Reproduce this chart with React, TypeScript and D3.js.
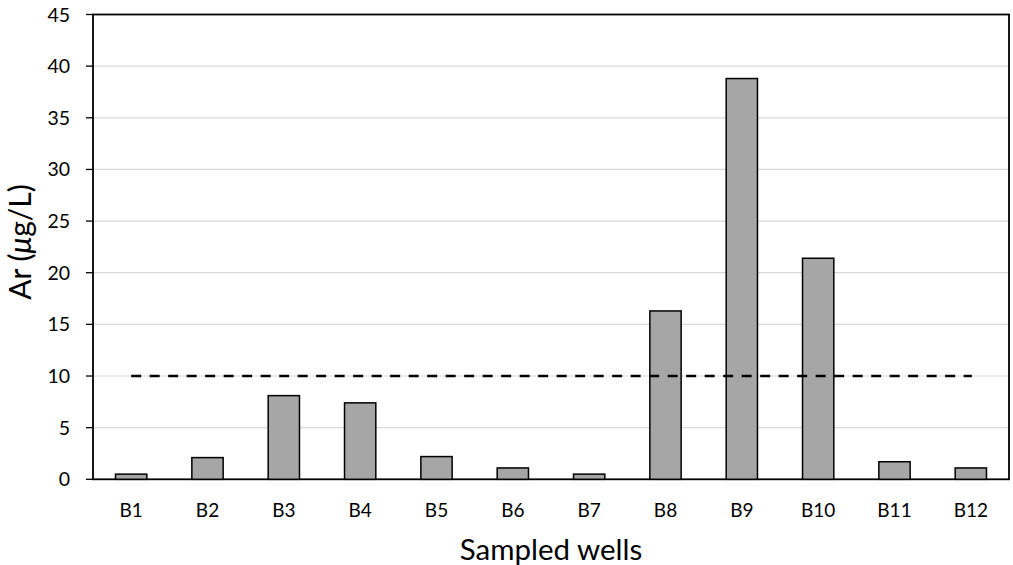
import React from "react";
import * as d3 from "d3";

const categories = ["B1", "B2", "B3", "B4", "B5", "B6", "B7", "B8", "B9", "B10", "B11", "B12"];
const values = [0.5, 2.1, 8.1, 7.4, 2.2, 1.1, 0.5, 16.3, 38.8, 21.4, 1.7, 1.1];
const yTicks = [0, 5, 10, 15, 20, 25, 30, 35, 40, 45];
const limit = 10;

const W = 1013, H = 565;
const M = { left: 93, right: 1009, top: 14.5, bottom: 479.3 };
const FONT = "Lato, 'Open Sans', sans-serif";

export default function App() {
  const x = d3.scaleBand<string>().domain(categories).range([M.left, M.right]).paddingInner(0.59).paddingOuter(0.295);
  const y = d3.scaleLinear().domain([0, 45]).range([M.bottom, M.top]);
  const first = x(categories[0])! + x.bandwidth() / 2;
  const last = x(categories[categories.length - 1])! + x.bandwidth() / 2;
  return (
    <svg width={W} height={H} style={{ position: "absolute", left: 0, top: 0, background: "#fff" }}>
      {yTicks.filter(t => t > 0 && t < 45).map(t => (
        <line key={"g" + t} x1={M.left} x2={M.right} y1={y(t)} y2={y(t)} stroke="#d9d9d9" strokeWidth={1.2} />
      ))}
      <rect x={M.left} y={M.top} width={M.right - M.left} height={M.bottom - M.top} fill="none" stroke="#000" strokeWidth={1.8} />
      {yTicks.map(t => (
        <g key={"t" + t}>
          <line x1={86} x2={M.left} y1={y(t)} y2={y(t)} stroke="#000" strokeWidth={1.3} />
          <text x={70} y={y(t)} dy="0.36em" textAnchor="end" fontFamily={FONT} fontSize={19.5} fill="#000">{t}</text>
        </g>
      ))}
      {values.map((v, i) => (
        <rect key={categories[i]} x={x(categories[i])} y={y(v)} width={x.bandwidth()} height={y(0) - y(v)}
          fill="#a6a6a6" stroke="#000" strokeWidth={1.5} />
      ))}
      <line x1={first} x2={last + 1} y1={y(limit)} y2={y(limit)} stroke="#000" strokeWidth={2.5} strokeDasharray="10,8.5" />
      {categories.map(c => (
        <text key={"x" + c} x={x(c)! + x.bandwidth() / 2} y={517} textAnchor="middle" fontFamily={FONT} fontSize={19} fill="#000">{c}</text>
      ))}
      <text x={551} y={560} textAnchor="middle" fontFamily={FONT} fontSize={29.5} fill="#000">Sampled wells</text>
      <text transform={`translate(31,242) rotate(-90)`} textAnchor="middle" fontFamily={FONT} fontSize={30} fill="#000">
        Ar (<tspan fontStyle="italic">μ</tspan>g/L)
      </text>
    </svg>
  );
}
